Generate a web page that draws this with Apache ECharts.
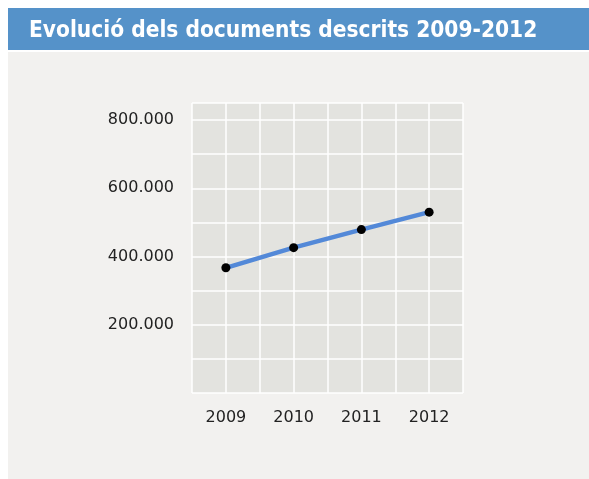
<!DOCTYPE html>
<html>
<head>
<meta charset="utf-8">
<script src="https://cdn.jsdelivr.net/npm/echarts@6/dist/echarts.min.js"></script>
<style>
html,body{margin:0;padding:0;background:#ffffff;}
#chart{width:589px;height:479px;}
</style>
</head>
<body>
<div id="chart"></div>
<script>
var titleText = 'Evolució dels documents descrits 2009-2012';
var years = ['2009', '2010', '2011', '2012'];
var documents = [367000, 426000, 479000, 530000];
var yTickLabels = [200000, 400000, 600000, 800000];
var gridColumns = ['', '', '', '', '', '', '', ''];

function fmt(v) {
  return String(v).replace(/\B(?=(\d{3})+(?!\d))/g, '.');
}

var chart = echarts.init(document.getElementById('chart'), null, {renderer: 'canvas'});
chart.setOption({
  backgroundColor: '#ffffff',
  animation: false,
  graphic: [
    {type: 'rect', z: -10, silent: true, shape: {x: 8, y: 8, width: 600, height: 42}, style: {fill: '#5592c9'}},
    {type: 'rect', z: -10, silent: true, shape: {x: 8, y: 52, width: 600, height: 440}, style: {fill: '#f2f1ef'}},
    {type: 'rect', z: -5, silent: true, shape: {x: 192, y: 103, width: 271, height: 290}, style: {fill: '#e3e3df'}}
  ],
  title: {
    text: titleText,
    left: 24,
    top: 15,
    textStyle: {
      color: '#ffffff',
      fontFamily: '"DejaVu Sans Condensed", "Liberation Sans Narrow", sans-serif',
      fontWeight: 'bold',
      fontSize: 22.5
    }
  },
  grid: {
    left: 192, right: 126, top: 103, bottom: 86,
    show: false
  },
  xAxis: [
    {
      type: 'category',
      data: years,
      boundaryGap: true,
      axisLine: {show: false},
      axisTick: {show: false},
      splitLine: {show: false},
      axisLabel: {
        margin: 17,
        color: '#222222',
        fontFamily: '"DejaVu Sans", sans-serif',
        fontSize: 16
      }
    },
    {
      type: 'category',
      data: gridColumns,
      position: 'bottom',
      boundaryGap: true,
      axisLine: {show: false},
      axisTick: {show: false},
      axisLabel: {show: false},
      splitLine: {show: true, interval: 0, lineStyle: {color: '#ffffff', width: 1.5}}
    }
  ],
  yAxis: {
    type: 'value',
    min: 0,
    max: 850000,
    interval: 100000,
    axisLine: {show: false},
    axisTick: {show: false},
    splitLine: {show: true, lineStyle: {color: '#ffffff', width: 1.5}},
    axisLabel: {
      margin: 18,
      color: '#222222',
      fontFamily: '"DejaVu Sans", sans-serif',
      fontSize: 16,
      formatter: function (v) {
        return yTickLabels.indexOf(v) >= 0 ? fmt(v) : '';
      }
    }
  },
  series: [{
    type: 'line',
    xAxisIndex: 0,
    data: documents,
    symbol: 'circle',
    symbolSize: 9,
    lineStyle: {color: '#5389d8', width: 4.5},
    itemStyle: {color: '#000000'},
    z: 5
  }]
});
</script>
</body>
</html>
